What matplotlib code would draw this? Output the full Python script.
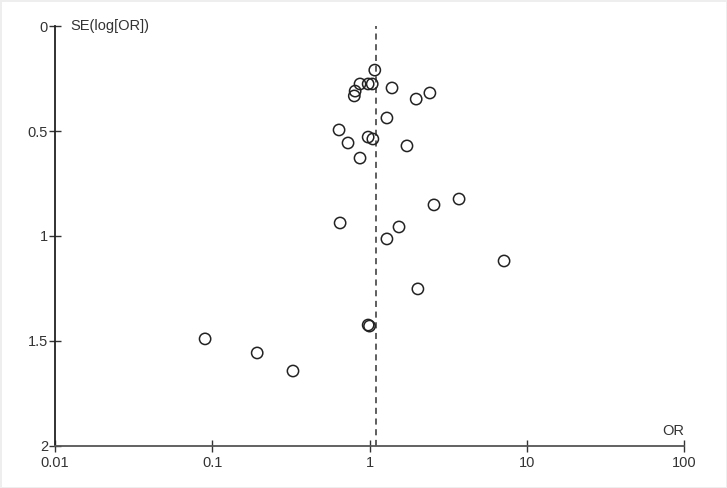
import matplotlib
matplotlib.use('Agg')
import matplotlib.pyplot as plt

plt.rcParams['font.family'] = ['Liberation Sans', 'DejaVu Sans']

# study odds ratios and standard errors of log(OR)
odds_ratio = [1.08, 0.87, 0.98, 1.04, 0.81, 0.80, 1.39, 1.98, 2.42,
              1.29, 0.64, 0.73, 0.98, 1.05, 1.73, 0.87,
              0.65, 2.57, 3.71, 1.54, 1.29, 7.17, 2.03,
              0.98, 1.00, 0.090, 0.193, 0.326]
se_log_or = [0.21, 0.276, 0.276, 0.276, 0.31, 0.333, 0.295, 0.348, 0.319,
             0.438, 0.495, 0.557, 0.529, 0.538, 0.571, 0.629,
             0.938, 0.852, 0.824, 0.957, 1.014, 1.119, 1.252,
             1.424, 1.429, 1.490, 1.557, 1.643]
pooled_or = 1.10

x_ticks = [0.01, 0.1, 1, 10, 100]
x_labels = ['0.01', '0.1', '1', '10', '100']
y_ticks = [0, 0.5, 1, 1.5, 2]
y_labels = ['0', '0.5', '1', '1.5', '2']

fig = plt.figure(figsize=(7.27, 4.88), dpi=100)
fig.patch.set_edgecolor('#eeeeee')
fig.patch.set_linewidth(2)
ax = fig.add_axes([0.0757, 0.0861, 0.8652, 0.8606])

ax.scatter(odds_ratio, se_log_or, s=66, facecolors='none',
           edgecolors='#222222', linewidths=1.1, clip_on=False, zorder=3)
ax.axvline(pooled_or, color='#333333', linestyle=(0, (4, 3)), linewidth=1.1)

ax.set_xscale('log')
ax.set_xlim(0.01, 100)
ax.set_ylim(2, 0)
ax.set_xticks(x_ticks)
ax.set_xticklabels(x_labels)
ax.minorticks_off()
ax.set_yticks(y_ticks)
ax.set_yticklabels(y_labels)

for side in ['top', 'right']:
    ax.spines[side].set_visible(False)
ax.spines['left'].set_color('#222222')
ax.spines['left'].set_linewidth(1.3)
ax.spines['bottom'].set_color('#555555')
ax.spines['bottom'].set_linewidth(1.3)

ax.tick_params(axis='both', direction='inout', length=8, width=1,
               colors='#333333', labelsize=10.5, labelcolor='#333333')
ax.tick_params(axis='x', pad=3)
ax.tick_params(axis='y', pad=1)

ax.text(0.0125, 0.0, 'SE(log[OR])', fontsize=10.5, color='#333333',
        ha='left', va='center')
ax.text(100, 1.96, 'OR', fontsize=10.5, color='#333333',
        ha='right', va='bottom')

fig.savefig('out.png', dpi=100)
